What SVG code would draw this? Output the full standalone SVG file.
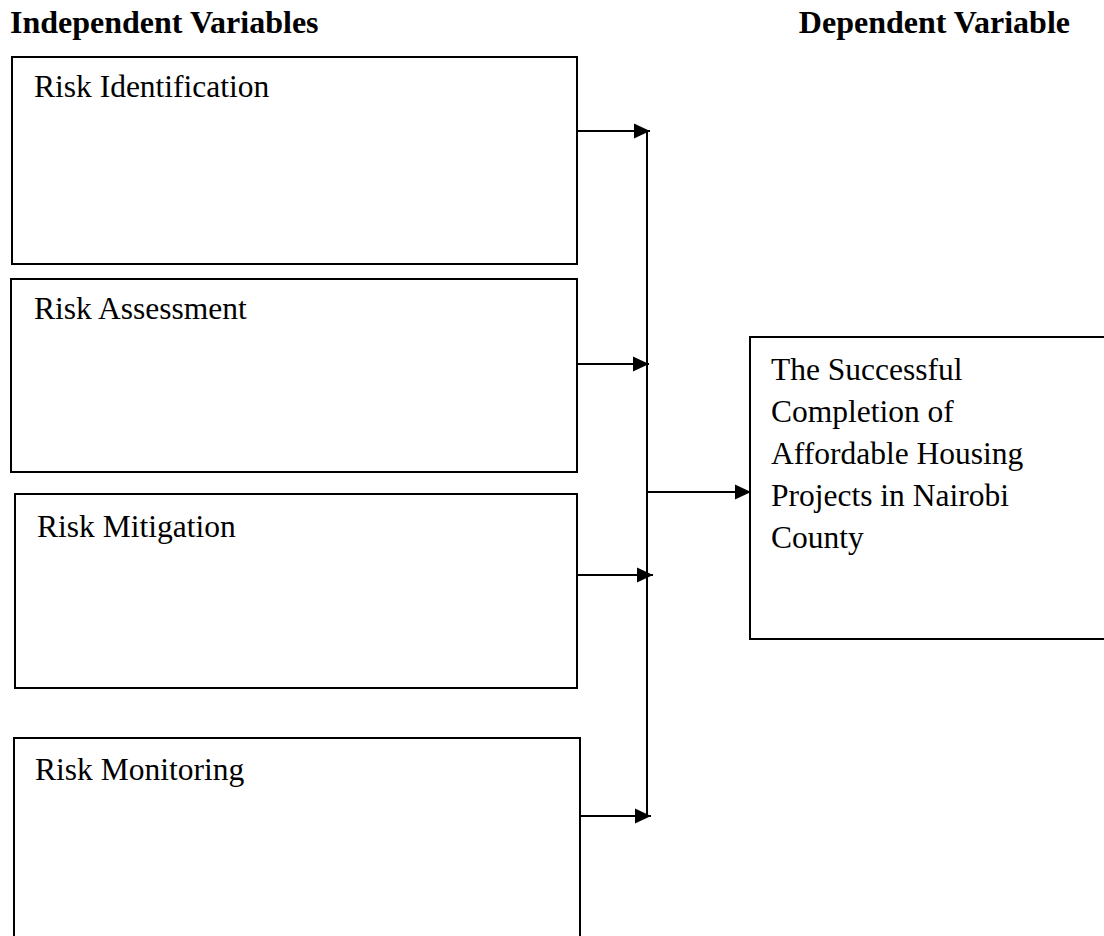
<svg xmlns="http://www.w3.org/2000/svg" width="1104" height="936" viewBox="0 0 1104 936">
  <style>
    .box { fill: #ffffff; stroke: #000000; stroke-width: 2; }
    .lbl { font-family: "Liberation Serif", "Times New Roman", serif; font-size: 31.5px; fill: #000000; }
    .hdr { font-family: "Liberation Serif", "Times New Roman", serif; font-size: 32px; font-weight: bold; fill: #000000; }
    .conn { fill: none; stroke: #000000; stroke-width: 2; }
  </style>
  <defs>
    <marker id="arrow" markerUnits="userSpaceOnUse" markerWidth="16" markerHeight="16" refX="16" refY="8" orient="auto">
      <path d="M0,0.5 L16,8 L0,15.5 z" fill="#000000"/>
    </marker>
  </defs>
  <rect width="1104" height="936" fill="#ffffff"/>

  <g id="headers">
    <text class="hdr" x="10" y="33">Independent Variables</text>
    <text class="hdr" x="1070" y="33" text-anchor="end">Dependent Variable</text>
  </g>

  <g id="node-risk-identification">
    <rect class="box" x="12" y="57" width="565" height="207"/>
    <text class="lbl" x="34" y="97">Risk Identification</text>
  </g>

  <g id="node-risk-assessment">
    <rect class="box" x="11" y="279" width="566" height="193"/>
    <text class="lbl" x="34" y="319">Risk Assessment</text>
  </g>

  <g id="node-risk-mitigation">
    <rect class="box" x="15" y="494" width="562" height="194"/>
    <text class="lbl" x="37" y="537">Risk Mitigation</text>
  </g>

  <g id="node-risk-monitoring">
    <rect class="box" x="14" y="738" width="566" height="210"/>
    <text class="lbl" x="35" y="780">Risk Monitoring</text>
  </g>

  <g id="node-successful-completion">
    <rect class="box" x="750" y="337" width="370" height="302"/>
    <text class="lbl" x="771" y="380">The Successful</text>
    <text class="lbl" x="771" y="422">Completion of</text>
    <text class="lbl" x="771" y="464">Affordable Housing</text>
    <text class="lbl" x="771" y="506">Projects in Nairobi</text>
    <text class="lbl" x="771" y="548">County</text>
  </g>

  <g id="connectors">
    <line class="conn" x1="647" y1="131" x2="647" y2="816"/>
    <line class="conn" x1="577" y1="131" x2="650" y2="131" marker-end="url(#arrow)"/>
    <line class="conn" x1="577" y1="364" x2="649" y2="364" marker-end="url(#arrow)"/>
    <line class="conn" x1="577" y1="575" x2="653" y2="575" marker-end="url(#arrow)"/>
    <line class="conn" x1="580" y1="816" x2="651" y2="816" marker-end="url(#arrow)"/>
    <line class="conn" x1="647" y1="492" x2="751" y2="492" marker-end="url(#arrow)"/>
  </g>
</svg>
